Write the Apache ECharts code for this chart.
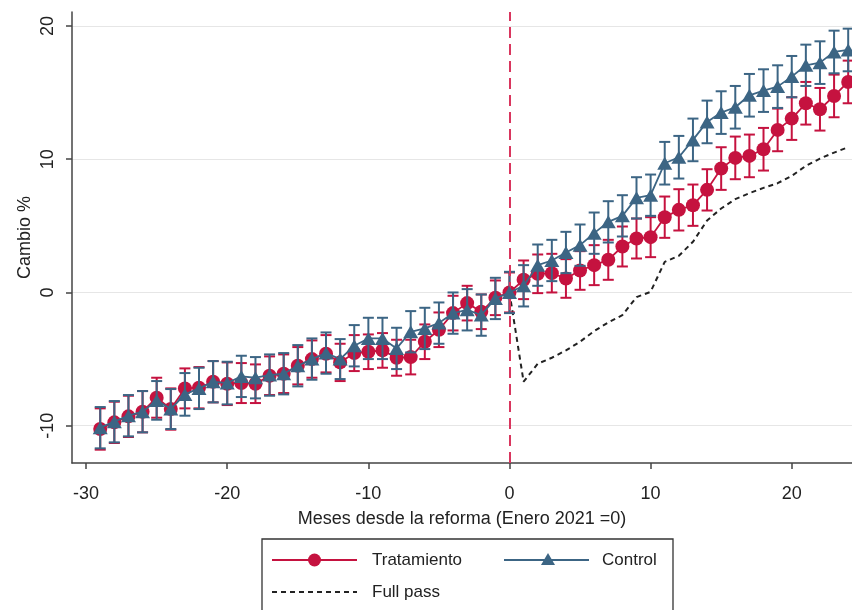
<!DOCTYPE html>
<html>
<head>
<meta charset="utf-8">
<script src="https://cdn.jsdelivr.net/npm/echarts@6/dist/echarts.min.js"></script>
<style>
  html, body { margin: 0; padding: 0; background: #fff; }
  #chart { width: 852px; height: 610px; }
</style>
</head>
<body>
<div id="chart"></div>
<script>
// Months relative to the reform (January 2021 = 0)
const months = [-29,-28,-27,-26,-25,-24,-23,-22,-21,-20,-19,-18,-17,-16,-15,-14,-13,-12,-11,-10,
  -9,-8,-7,-6,-5,-4,-3,-2,-1,0,1,2,3,4,5,6,7,8,9,10,11,12,13,14,15,16,17,18,19,20,21,22,23,24];

// Point estimates (% change)
const tratamiento = [-10.25,-9.75,-9.3,-8.95,-7.9,-8.75,-7.2,-7.15,-6.7,-6.85,-6.8,-6.85,-6.25,-6.1,-5.5,-5.0,-4.6,-5.25,-4.55,-4.45,
  -4.35,-4.9,-4.85,-3.7,-2.8,-1.55,-0.8,-1.45,-0.4,0,0.95,1.4,1.45,1.05,1.65,2.05,2.45,3.45,4.05,4.15,5.65,6.2,6.55,7.7,9.3,10.1,10.25,10.75,12.2,13.05,14.2,13.75,14.75,15.8];
const control = [-10.15,-9.7,-9.25,-8.95,-8.1,-8.75,-7.65,-7.2,-6.7,-6.8,-6.3,-6.4,-6.2,-6.1,-5.5,-5.0,-4.55,-5.0,-4.0,-3.45,
  -3.45,-4.2,-2.95,-2.7,-2.3,-1.55,-1.3,-1.7,-0.45,0,0.5,2.05,2.4,3.0,3.55,4.45,5.3,5.75,7.1,7.3,9.7,10.15,11.45,12.8,13.5,13.9,14.8,15.15,15.45,16.2,17.05,17.25,18.05,18.2];

// Half-width of the confidence interval for each month
const tratamientoCI = [1.55,1.55,1.55,1.55,1.5,1.55,1.5,1.55,1.55,1.6,1.5,1.45,1.45,1.45,1.4,1.4,1.4,1.4,1.35,1.3,
  1.3,1.35,1.3,1.3,1.3,1.3,1.3,1.3,1.3,1.5,1.45,1.45,1.45,1.45,1.45,1.5,1.5,1.5,1.5,1.5,1.55,1.55,1.55,1.55,1.6,1.6,1.6,1.6,1.6,1.6,1.6,1.6,1.6,1.6];
const controlCI = [1.55,1.55,1.55,1.55,1.45,1.5,1.6,1.55,1.55,1.6,1.55,1.55,1.55,1.55,1.55,1.55,1.55,1.5,1.55,1.55,
  1.55,1.55,1.55,1.55,1.55,1.55,1.55,1.55,1.55,1.55,1.55,1.55,1.55,1.55,1.55,1.55,1.55,1.55,1.55,1.55,1.6,1.6,1.6,1.6,1.6,1.6,1.6,1.6,1.6,1.55,1.55,1.6,1.6,1.6];

// Full pass-through path after the reform
const fullPassMonths = [0,1,2,3,4,5,6,7,8,9,10,11,12,13,14,15,16,17,18,19,20,21,22,23,24];
const fullPass = [0,-6.7,-5.35,-4.9,-4.35,-3.7,-2.9,-2.25,-1.7,-0.35,0.05,2.3,2.75,3.8,5.4,6.3,7.0,7.45,7.85,8.2,8.75,9.5,10.05,10.5,10.9];

const xTicks = [-30,-20,-10,0,10,20];
const yTicks = [-10,0,10,20];

const RED = '#C5123F';
const BLUE = '#3C6584';
const FONT = 'Liberation Sans, Arial, sans-serif';

const pairs = (xs, ys) => xs.map((x, i) => [x, ys[i]]);
const ciRows = (xs, ys, hw) => xs.map((x, i) => [x, ys[i] - hw[i], ys[i] + hw[i]]);

function ciRenderer(color) {
  return function (params, api) {
    const x = api.value(0);
    const lo = api.coord([x, api.value(1)]);
    const hi = api.coord([x, api.value(2)]);
    const cap = 5.5;
    const style = { stroke: color, lineWidth: 2 };
    return {
      type: 'group',
      children: [
        { type: 'line', shape: { x1: lo[0], y1: lo[1], x2: hi[0], y2: hi[1] }, style },
        { type: 'line', shape: { x1: lo[0] - cap, y1: lo[1], x2: lo[0] + cap, y2: lo[1] }, style },
        { type: 'line', shape: { x1: hi[0] - cap, y1: hi[1], x2: hi[0] + cap, y2: hi[1] }, style }
      ]
    };
  };
}

const chart = echarts.init(document.getElementById('chart'), null, { renderer: 'canvas' });

chart.setOption({
  animation: false,
  backgroundColor: '#fff',
  textStyle: { fontFamily: FONT },
  grid: { left: 72, right: 0, top: 12, bottom: 147, containLabel: false },
  xAxis: {
    type: 'value',
    min: -31,
    max: 24.27,
    name: 'Meses desde la reforma (Enero 2021 =0)',
    nameLocation: 'middle',
    nameGap: 47,
    nameMoveOverlap: false,
    nameTextStyle: { fontSize: 18, color: '#222', fontFamily: FONT },
    axisLine: { show: true, onZero: false, lineStyle: { color: '#444', width: 1.5 } },
    axisTick: { show: true, length: 6, customValues: xTicks, lineStyle: { color: '#444', width: 1.5 } },
    axisLabel: { customValues: xTicks, fontSize: 18, color: '#222', margin: 22, fontFamily: FONT },
    splitLine: { show: false }
  },
  yAxis: {
    type: 'value',
    min: -12.8,
    max: 21.05,
    name: 'Cambio %',
    nameLocation: 'middle',
    nameRotate: 90,
    nameGap: 38,
    nameMoveOverlap: false,
    nameTextStyle: { fontSize: 18, color: '#222', fontFamily: FONT },
    axisLine: { show: true, onZero: false, lineStyle: { color: '#444', width: 1.5 } },
    axisTick: { show: true, length: 6, customValues: yTicks, lineStyle: { color: '#444', width: 1.5 } },
    axisLabel: { customValues: yTicks, rotate: 90, fontSize: 18, color: '#222', margin: 15, fontFamily: FONT },
    splitLine: { show: true, lineStyle: { color: '#E6E6E6', width: 1.2 } }
  },
  series: [
    {
      name: 'Full pass',
      type: 'line',
      data: pairs(fullPassMonths, fullPass),
      symbol: 'none',
      lineStyle: { color: '#222', width: 2, type: [5, 4] },
      z: 1,
      markLine: {
        silent: true,
        symbol: 'none',
        label: { show: false },
        lineStyle: { color: '#D9365E', width: 2, type: [11, 6] },
        data: [{ xAxis: 0 }]
      }
    },
    {
      name: 'Tratamiento IC',
      type: 'custom',
      data: ciRows(months, tratamiento, tratamientoCI),
      renderItem: ciRenderer(RED),
      z: 2
    },
    {
      name: 'Tratamiento',
      type: 'line',
      data: pairs(months, tratamiento),
      symbol: 'circle',
      symbolSize: 14,
      itemStyle: { color: RED },
      lineStyle: { color: RED, width: 1.8 },
      z: 3
    },
    {
      name: 'Control IC',
      type: 'custom',
      data: ciRows(months, control, controlCI),
      renderItem: ciRenderer(BLUE),
      z: 4
    },
    {
      name: 'Control',
      type: 'line',
      data: pairs(months, control),
      symbol: 'triangle',
      symbolSize: [15, 13],
      itemStyle: { color: BLUE },
      lineStyle: { color: BLUE, width: 1.8 },
      z: 5
    }
  ],
  graphic: [
    { type: 'rect', shape: { x: 262, y: 539, width: 411, height: 90 }, style: { fill: '#fff', stroke: '#333', lineWidth: 1.3 } },
    { type: 'line', shape: { x1: 272, y1: 560, x2: 357, y2: 560 }, style: { stroke: RED, lineWidth: 1.8 } },
    { type: 'circle', shape: { cx: 314.5, cy: 560, r: 6.5 }, style: { fill: RED } },
    { type: 'text', x: 372, y: 560, style: { text: 'Tratamiento', fontSize: 17, fill: '#222', fontFamily: FONT, verticalAlign: 'middle' } },
    { type: 'line', shape: { x1: 504, y1: 560, x2: 589, y2: 560 }, style: { stroke: BLUE, lineWidth: 1.8 } },
    { type: 'polygon', shape: { points: [[548, 553], [555, 565], [541, 565]] }, style: { fill: BLUE } },
    { type: 'text', x: 602, y: 560, style: { text: 'Control', fontSize: 17, fill: '#222', fontFamily: FONT, verticalAlign: 'middle' } },
    { type: 'line', shape: { x1: 272, y1: 592, x2: 357, y2: 592 }, style: { stroke: '#222', lineWidth: 2, lineDash: [5, 4] } },
    { type: 'text', x: 372, y: 592, style: { text: 'Full pass', fontSize: 17, fill: '#222', fontFamily: FONT, verticalAlign: 'middle' } }
  ]
});
</script>
</body>
</html>
